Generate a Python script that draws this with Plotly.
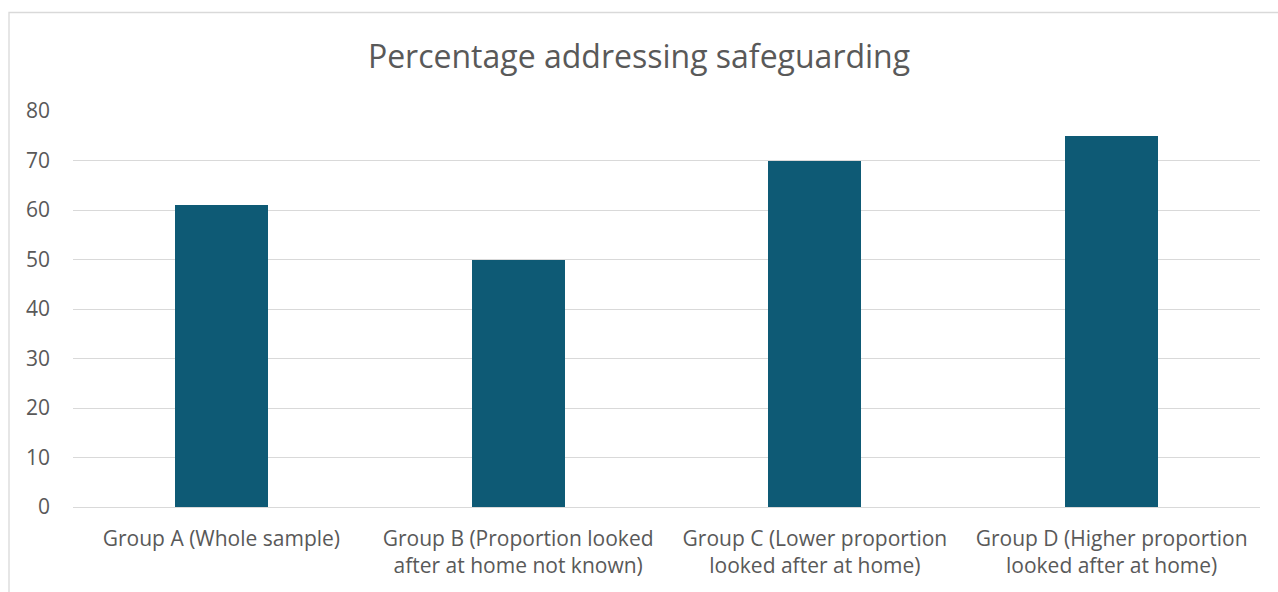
import plotly.graph_objects as go

categories = [
    "Group A (Whole sample)",
    "Group B (Proportion looked<br>after at home not known)",
    "Group C (Lower proportion<br>looked after at home)",
    "Group D (Higher proportion<br>looked after at home)",
]
values = [61, 50, 70, 75]
y_ticks = [0, 10, 20, 30, 40, 50, 60, 70, 80]

W, H = 1278, 592
L, R, T, B = 73, 18, 111, 85
pw, ph = W - L - R, H - T - B

fig = go.Figure(go.Bar(
    x=categories, y=values,
    marker=dict(color="#0E5A75", line=dict(width=0)),
    width=0.313,
))

fig.update_layout(
    width=W, height=H,
    margin=dict(l=L, r=R, t=T, b=B, pad=0),
    paper_bgcolor="white", plot_bgcolor="white",
    font=dict(family="Open Sans, sans-serif", color="#595959", size=21),
    title=dict(text="Percentage addressing safeguarding", x=0.5, xanchor="center",
               y=1 - 57 / H, yanchor="middle",
               font=dict(size=32, color="#595959")),
    showlegend=False,
    bargap=0,
    xaxis=dict(showgrid=False, showline=False, ticks="", tickfont=dict(size=21),
               ticklabelstandoff=17),
    yaxis=dict(range=[0, 80], tickvals=y_ticks, showgrid=True, gridcolor="#D9D9D9",
               gridwidth=1.3, zeroline=True, zerolinecolor="#D9D9D9", zerolinewidth=1.3,
               showline=False, ticks="", ticklabelstandoff=22, tickfont=dict(size=21)),
    shapes=[dict(type="rect", xref="paper", yref="paper",
                 x0=(9 - L) / pw, x1=(W + 5 - L) / pw,
                 y0=-(B + 5) / ph, y1=1 + (T - 12.5) / ph,
                 line=dict(color="#D9D9D9", width=1.3), layer="below")],
)

fig.write_html("out.html")
